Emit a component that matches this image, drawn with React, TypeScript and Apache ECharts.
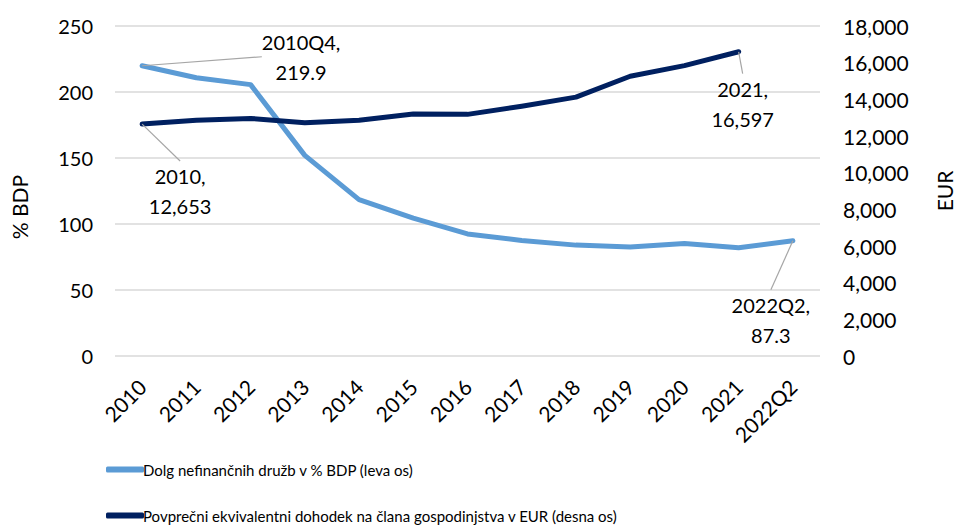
import React, { useEffect, useRef } from "react";
import * as echarts from "echarts";

const categories = ["2010", "2011", "2012", "2013", "2014", "2015", "2016", "2017", "2018", "2019", "2020", "2021", "2022Q2"];
const debtPctGdp = [219.9, 210.8, 205.6, 152, 118.5, 104.5, 92.5, 87.5, 84, 82.6, 85.2, 82, 87.3];
const incomeEur = [12653, 12860, 12960, 12720, 12860, 13200, 13180, 13620, 14120, 15260, 15840, 16597, null];
const leftTicks = { min: 0, max: 250, interval: 50 };
const rightTicks = { min: 0, max: 18000, interval: 2000 };
const seriesNames = [
  "Dolg nefinančnih družb v % BDP (leva os)",
  "Povprečni ekvivalentni dohodek na člana gospodinjstva v EUR (desna os)",
];
const debtLabelNames: Record<number, string> = { 0: "2010Q4", 12: "2022Q2" };
const incomeLabelNames: Record<number, string> = { 0: "2010", 11: "2021" };

const FONT = "Lato, 'Open Sans', sans-serif";
const fmt = (v: number) => v.toLocaleString("en-US");

export default function App() {
  const ref = useRef<HTMLDivElement>(null);
  useEffect(() => {
    const chart = echarts.init(ref.current!, null, { renderer: "svg" });
    const labelOffsets: Record<string, [number, number]> = {
      "0-0": [159, -9],
      "0-12": [-22, 79],
      "1-0": [38, 67],
      "1-11": [4, 52],
    };
    const labelStyle = {
      position: "inside",
      color: "#000",
      fontFamily: FONT,
      fontSize: 20,
      lineHeight: 30,
      align: "center",
      verticalAlign: "middle",
    };
    chart.setOption({
      animation: false,
      textStyle: { fontFamily: FONT },
      grid: { left: 115, right: 137, top: 26, bottom: 172, containLabel: false, outerBoundsMode: "none" },
      legend: {
        orient: "vertical",
        left: 101,
        top: 457,
        itemGap: 31,
        itemWidth: 38,
        itemHeight: 6,
        icon: "roundRect",
        textStyle: { fontFamily: FONT, fontSize: 15, color: "#000", padding: [0, 0, 0, -6] },
        data: seriesNames,
      },
      xAxis: {
        type: "category",
        data: categories,
        boundaryGap: true,
        axisLine: { show: false },
        axisTick: { show: false },
        axisLabel: { rotate: 45, fontSize: 21, color: "#000", fontFamily: FONT, margin: 27, interval: 0 },
      },
      yAxis: [
        {
          type: "value",
          ...leftTicks,
          name: "% BDP",
          nameLocation: "middle",
          nameGap: 85,
          nameTextStyle: { fontSize: 21, color: "#000", fontFamily: FONT, padding: [0, 32, 0, 0] },
          axisLabel: { fontSize: 20, color: "#000", fontFamily: FONT, margin: 22 },
          splitLine: { lineStyle: { color: "#d9d9d9", width: 1.5 } },
          axisLine: { show: false },
          axisTick: { show: false },
        },
        {
          type: "value",
          ...rightTicks,
          name: "EUR",
          nameLocation: "middle",
          nameGap: 113,
          nameRotate: 90,
          nameTextStyle: { fontSize: 21, lineHeight: 22, color: "#000", fontFamily: FONT },
          axisLabel: { fontSize: 21, color: "#000", fontFamily: FONT, margin: 23, formatter: (v: number) => fmt(v) },
          splitLine: { show: false },
          axisLine: { show: false },
          axisTick: { show: false },
        },
      ],
      series: [
        {
          name: seriesNames[0],
          type: "line",
          yAxisIndex: 0,
          data: debtPctGdp.map((v, i) =>
            debtLabelNames[i] !== undefined
              ? { value: v, label: { show: true, ...labelStyle, formatter: `${debtLabelNames[i]},\n${v}` } }
              : v
          ),
          symbol: "circle",
          symbolSize: 0.1,
          showSymbol: true,
          lineStyle: { color: "#5B9BD5", width: 5, cap: "round", join: "round" },
          itemStyle: { color: "#5B9BD5" },
          labelLine: { show: true, lineStyle: { color: "#a6a6a6", width: 1.2 } },
        },
        {
          name: seriesNames[1],
          type: "line",
          yAxisIndex: 1,
          data: incomeEur.map((v, i) =>
            incomeLabelNames[i] !== undefined && v !== null
              ? { value: v, label: { show: true, ...labelStyle, formatter: `${incomeLabelNames[i]},\n${fmt(v)}` } }
              : v
          ),
          symbol: "circle",
          symbolSize: 0.1,
          showSymbol: true,
          lineStyle: { color: "#002060", width: 5, cap: "round", join: "round" },
          itemStyle: { color: "#002060" },
          labelLine: { show: true, lineStyle: { color: "#a6a6a6", width: 1.2 } },
        },
      ],
      labelLayout: (params: any) => {
        const o = labelOffsets[`${params.seriesIndex}-${params.dataIndex}`];
        return o ? { dx: o[0], dy: o[1] } : {};
      },
    });
    return () => chart.dispose();
  }, []);
  return <div ref={ref} style={{ width: 957, height: 528, position: "absolute", left: 0, top: 0 }} />;
}
